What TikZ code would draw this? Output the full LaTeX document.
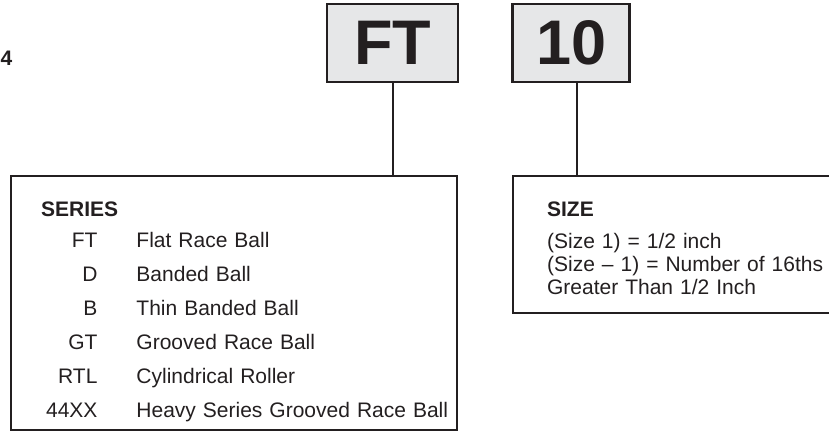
\documentclass[tikz,border=0pt]{standalone}
\usepackage{fontspec}
\setmainfont{Liberation Sans}
\usetikzlibrary{positioning}
\definecolor{ink}{HTML}{231F20}
\definecolor{keygray}{HTML}{E6E7E8}

\begin{document}
\begin{tikzpicture}[x=1pt,y=-1pt,
	codebox/.style={shape=rectangle,draw=ink,fill=keygray,line width=2.6pt,inner sep=0pt,minimum height=78pt,text=ink,font=\fontsize{63}{63}\selectfont\bfseries},
	keybox/.style={shape=rectangle,draw=ink,line width=2.2pt,inner sep=0pt,anchor=north west,text=ink,align=left,font=\fontsize{21}{34}\selectfont},
	lead/.style={draw=ink,line width=2pt}]
	\useasboundingbox (0,0) rectangle (829,431);
	\node (partno) [anchor=base west,inner sep=0pt,text=ink,font=\fontsize{21}{21}\selectfont\bfseries] at (0.5,65) {4};
	\node (seriescode) [codebox,minimum width=131pt] at (392.5,43) {FT};
	\node (sizecode) [codebox,minimum width=117pt] [right=52pt of seriescode] {10};
	\node (serieskey) [keybox,text width=446pt] at (10,175) {
		\begin{tabular}{@{\hspace{35pt}}r@{\hspace{39pt}}l}
			\multicolumn{2}{@{\hspace{30pt}}l}{\rule{0pt}{40pt}\textbf{SERIES}}\\[-3pt]
			FT & Flat Race Ball\\
			D & Banded Ball\\
			B & Thin Banded Ball\\
			GT & Grooved Race Ball\\
			RTL & Cylindrical Roller\\
			44XX & Heavy Series Grooved Race Ball\rule[-13pt]{0pt}{13pt}
		\end{tabular}
	};
	\node (sizekey) [keybox,inner xsep=34pt,text width=320pt,font=\fontsize{21}{23}\selectfont] at (512,175) {
		\rule{0pt}{40pt}\textbf{SIZE}\\[9pt]
		(Size 1) = 1/2 inch\\
		(Size – 1) = Number of 16ths\\
		Greater Than 1/2 Inch\rule[-19pt]{0pt}{19pt}
	};

	\coordinate (seriesjoin) at (seriescode.south |- serieskey.north);
	\coordinate (sizejoin) at ([xshift=5.5pt]sizecode.south |- sizekey.north);
	\path[lead] (seriescode) edge (seriesjoin);
	\path[lead] ([xshift=5.5pt]sizecode.south) edge (sizejoin);
\end{tikzpicture}
\end{document}
